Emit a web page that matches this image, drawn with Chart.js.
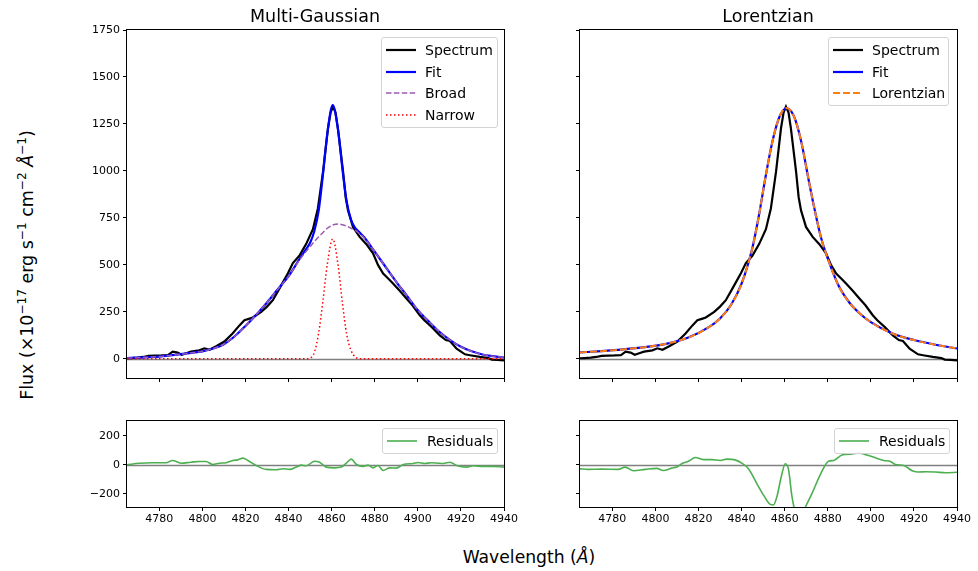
<!DOCTYPE html>
<html>
<head>
<meta charset="utf-8">
<script src="https://cdn.jsdelivr.net/npm/chart.js@4"></script>
<style>
  body { margin: 0; background: #fff; font-family: 'DejaVu Sans', sans-serif; }
  #fig { position: relative; width: 978px; height: 571px; overflow: hidden; }
  .panel { position: absolute; }
  .lbl { position: absolute; white-space: nowrap; color: #000; }
  .legend { position: absolute; border: 1px solid #d3d3d3; border-radius: 3px; background: rgba(255,255,255,0.85); font-size: 14px; z-index: 5; box-sizing: border-box; }
  .legend .row { position: absolute; left: 0; height: 20px; line-height: 20px; white-space: nowrap; }
  .legend svg { position: absolute; top: 5px; }
  sup { font-size: 0.7em; vertical-align: 0.55em; line-height: 0; }
</style>
</head>
<body>
<div id="fig">
  <div class="panel" style="left:77px;top:22px"><canvas id="topLeft" width="443" height="362"></canvas></div>
  <div class="panel" style="left:530px;top:22px"><canvas id="topRight" width="443" height="362"></canvas></div>
  <div class="panel" style="left:77px;top:413px"><canvas id="resLeft" width="443" height="118"></canvas></div>
  <div class="panel" style="left:530px;top:413px"><canvas id="resRight" width="443" height="118"></canvas></div>

  <div class="lbl" style="left:315px;top:6px;transform:translateX(-50%);font-size:17.5px">Multi-Gaussian</div>
  <div class="lbl" style="left:768px;top:6px;transform:translateX(-50%);font-size:17.5px">Lorentzian</div>
  <div class="lbl" style="left:529px;top:547px;transform:translateX(-50%);font-size:17.2px">Wavelength (<i>Å</i>)</div>
  <div class="lbl" style="left:27px;top:265px;transform:translate(-50%,-50%) rotate(-90deg);font-size:17.4px">Flux (×10<sup>−17</sup> erg s<sup>−1</sup> cm<sup>−2</sup> <i>Å</i><sup>−1</sup>)</div>
</div>

<script>
// --- axis ticks ---
const waveTicks = [4780, 4800, 4820, 4840, 4860, 4880, 4900, 4920, 4940];
const fluxTicks = [0, 250, 500, 750, 1000, 1250, 1500, 1750];
const resTicks = [-200, 0, 200];

// --- observed spectrum (same in both panels) ---
const specWave = [4765, 4767, 4770, 4772.5, 4775, 4778, 4781, 4784, 4786.2, 4788.5, 4790.4, 4792.5, 4794.7, 4798.6,
  4800.9, 4803.3, 4806.4, 4810.2, 4814, 4817.2, 4819.5, 4821.9, 4823.4, 4827.3, 4830, 4832.7, 4835.8, 4839.7,
  4842, 4845, 4848.2, 4851.3, 4853.6, 4856, 4858.3, 4859.5, 4860.6, 4861.8, 4862.9, 4865.3, 4866.5, 4867.6,
  4869.9, 4873, 4876.1, 4879.2, 4881.5, 4883.9, 4886, 4888.5, 4891.6, 4894.7, 4897.5, 4900.9, 4903, 4906.4,
  4910.2, 4913, 4914.9, 4918, 4921.9, 4924.2, 4928.8, 4932.7, 4934.3, 4937, 4940];
const specFlux = [3, 4, 6, 10, 16, 17, 18, 20, 38, 33, 22, 30, 38, 45,
  56, 48, 67, 92, 135, 178, 205, 214, 220, 250, 278, 312, 375, 455,
  510, 548, 612, 690, 800, 996, 1227, 1310, 1342, 1310, 1227, 996, 860, 790,
  702, 649, 610, 561, 500, 454, 430, 401, 362, 321, 285, 232, 205, 170,
  125, 100, 95, 54, 24, 19, 10, 4, -4, -6, -8];

// --- multi-gaussian model ---
const modelWave = [4765, 4770, 4775, 4780, 4785, 4790, 4795, 4800, 4805, 4810, 4815, 4820, 4825, 4830, 4835,
  4840, 4845, 4848, 4850, 4852, 4854, 4856, 4858, 4860.5, 4863, 4865, 4867, 4869, 4871, 4873, 4875, 4880, 4885,
  4890, 4895, 4900, 4905, 4910, 4915, 4920, 4925, 4930, 4935, 4940];
const fitFlux = [4, 6, 9, 12, 18, 25, 32, 40, 55, 78, 120, 175, 235, 300, 370,
  440, 530, 582, 618, 682, 790, 985, 1200, 1350, 1215, 1010, 835, 740, 695, 672, 648, 570, 490,
  410, 335, 259, 200, 144, 100, 64, 40, 23, 14, 7];
const broadFlux = [4, 6, 9, 12, 18, 25, 32, 40, 55, 78, 120, 175, 235, 300, 370,
  440, 525, 570, 597, 625, 650, 672, 695, 712, 718, 714, 706, 695, 683, 665, 645, 570, 490,
  410, 335, 259, 200, 144, 100, 64, 40, 23, 14, 7];
const narrowFlux = [0, 0, 0, 0, 0, 0, 0, 0, 0, 0, 0, 0, 0, 0, 0,
  0, 0, 0, 4, 35, 140, 313, 505, 638, 497, 296, 129, 45, 10, 0, 0, 0, 0,
  0, 0, 0, 0, 0, 0, 0, 0, 0, 0, 0];

// --- lorentzian model ---
const lorWave = [4765, 4775, 4785, 4795, 4805, 4815, 4825, 4830, 4835, 4840, 4845, 4848, 4851, 4854, 4857,
  4859, 4861, 4863, 4865, 4868, 4871, 4874, 4877, 4880, 4885, 4890, 4895, 4900, 4910, 4920, 4930, 4940];
const lorFlux = [34, 41, 50, 62, 80, 112, 170, 215, 285, 400, 590, 760, 960, 1140, 1270,
  1318, 1335, 1318, 1270, 1140, 960, 790, 640, 535, 390, 300, 240, 195, 135, 100, 75, 55];

// --- residuals ---
const resLWave = [4765, 4770.7, 4776.9, 4783.1, 4786.2, 4790, 4794.7, 4798.6, 4801.7, 4804.8, 4807.9, 4811, 4814.1,
  4816.4, 4818.8, 4821.1, 4825, 4829.6, 4834.3, 4837.4, 4840.5, 4843.6, 4845.9, 4848.2, 4852.1, 4854.4, 4857.5,
  4861.4, 4864.5, 4866.8, 4869.1, 4871.5, 4874.6, 4876.9, 4879.2, 4881.5, 4883.9, 4887, 4890, 4893.2, 4897.8,
  4900.1, 4903.2, 4906.3, 4909.4, 4911.8, 4914.9, 4918, 4922.6, 4925.7, 4930.4, 4935, 4940];
const resLFlux = [0, 11, 14, 14, 30, 11, 18, 23, 23, 2, 11, 14, 30,
  34, 46, 30, -5, -32, -34, -27, -32, -16, -2, -7, 25, 18, -16,
  -21, -16, 11, 39, 2, -11, -2, -21, -5, -39, -21, -23, 2, 9,
  16, 9, 14, 11, 9, 18, -5, -16, -7, -11, -11, -16];
const resRWave = [4765, 4768.8, 4775, 4782.8, 4785.9, 4789.8, 4795.2, 4800.6, 4803.7, 4807.6, 4809.9, 4812.2,
  4815.4, 4818.5, 4822.3, 4826.2, 4830.1, 4833.2, 4837, 4840.1, 4843.2, 4847.1, 4850.2, 4853.3, 4854.8, 4856.4,
  4858.4, 4860.3, 4861.8, 4863.4, 4865, 4867, 4869.6, 4872.7, 4876.6, 4880.4, 4882.8, 4886.6, 4891.3, 4894.4,
  4899, 4902.1, 4906, 4909.1, 4911.4, 4915.3, 4919.2, 4922.3, 4925.4, 4930, 4934.7, 4940];
const resRFlux = [-28, -32, -30, -32, -16, -41, -32, -25, -39, -23, -16, 7,
  25, 50, 36, 36, 30, 39, 34, 11, -27, -130, -210, -274, -278, -221,
  -84, 7, -34, -221, -330, -380, -294, -198, -66, 25, 30, 68, 75, 82,
  64, 48, 30, 23, 2, -5, -41, -50, -48, -50, -55, -52];

const pts = (xs, ys) => xs.map((x, i) => ({ x: x, y: ys[i] }));
const fmt = v => v < 0 ? '\u2212' + Math.abs(v) : String(v);

// frame + zero line, like matplotlib spines and axhline
const frame = {
  id: 'frame',
  beforeDatasetsDraw(chart) {
    const { ctx, chartArea: a, scales } = chart;
    const y = Math.round(scales.y.getPixelForValue(0)) + 0.5;
    ctx.save();
    ctx.strokeStyle = '#808080';
    ctx.lineWidth = 1.3;
    ctx.beginPath(); ctx.moveTo(a.left, y); ctx.lineTo(a.right, y); ctx.stroke();
    ctx.restore();
  },
  afterDatasetsDraw(chart) {
    const { ctx, chartArea: a } = chart;
    ctx.save();
    ctx.strokeStyle = '#000';
    ctx.lineWidth = 1;
    ctx.strokeRect(a.left - 0.5, a.top - 0.5, a.right - a.left + 1, a.bottom - a.top + 1);
    ctx.restore();
  }
};

// order: higher number is drawn further back
function line(label, data, color, width, dash, smooth, order) {
  return {
    label, data, borderColor: color, borderWidth: width, borderDash: dash || [],
    pointRadius: 0, fill: false, order: order,
    tension: smooth ? 0.4 : 0, cubicInterpolationMode: smooth ? 'monotone' : 'default'
  };
}

function panel(id, datasets, yMin, yMax, yTicks, xLabels, yLabels, xh) {
  return new Chart(document.getElementById(id), {
    type: 'line',
    data: { datasets },
    plugins: [frame],
    options: {
      responsive: false, animation: false, devicePixelRatio: 1,
      layout: { padding: { top: 8, right: 16, left: 0, bottom: 0 } },
      plugins: { legend: { display: false }, tooltip: { enabled: false } },
      scales: {
        x: {
          type: 'linear', min: 4765, max: 4940,
          afterBuildTicks: s => { s.ticks = waveTicks.map(v => ({ value: v })); },
          afterFit: s => { s.height = xh; s.paddingLeft = 0; s.paddingRight = 0; },
          ticks: { display: xLabels, color: '#000', font: { family: 'DejaVu Sans', size: 11 }, maxRotation: 0, autoSkip: false, padding: 2, callback: fmt },
          grid: { drawOnChartArea: false, drawTicks: true, tickLength: 4, color: '#000', tickColor: '#000' },
          border: { display: false }
        },
        y: {
          type: 'linear', min: yMin, max: yMax,
          afterBuildTicks: s => { s.ticks = yTicks.map(v => ({ value: v })); },
          afterFit: s => { s.width = 50; s.paddingTop = 0; s.paddingBottom = 0; },
          ticks: { display: yLabels, color: '#000', font: { family: 'DejaVu Sans', size: 11 }, padding: 3, callback: fmt },
          grid: { drawOnChartArea: false, drawTicks: true, tickLength: 4, color: '#000', tickColor: '#000' },
          border: { display: false }
        }
      }
    }
  });
}

panel('topLeft', [
  line('Spectrum', pts(specWave, specFlux), '#000', 2.2, null, false, 4),
  line('Fit', pts(modelWave, fitFlux), '#0000ff', 2.2, null, true, 3),
  line('Broad', pts(modelWave, broadFlux), '#9b59b6', 1.5, [5.5, 2.4], true, 2),
  line('Narrow', pts(modelWave, narrowFlux), '#ff0000', 1.5, [1.5, 2.5], true, 1)
], -102, 1750, fluxTicks, false, true, 6);

panel('topRight', [
  line('Spectrum', pts(specWave, specFlux), '#000', 2.2, null, false, 3),
  line('Fit', pts(lorWave, lorFlux), '#0000ff', 2.2, null, true, 2),
  line('Lorentzian', pts(lorWave, lorFlux), '#ff7f0e', 2, [7, 3], true, 1)
], -102, 1750, fluxTicks, false, false, 6);

panel('resLeft', [
  line('Residuals', pts(resLWave, resLFlux), '#4caf50', 1.6, null, true, 1)
], -292, 303, resTicks, true, true, 24);

panel('resRight', [
  line('Residuals', pts(resRWave, resRFlux), '#4caf50', 1.6, null, true, 1)
], -292, 303, resTicks, true, false, 24);

// --- legends (matplotlib style boxes inside the axes) ---
function legend(left, top, width, items) {
  const box = document.createElement('div');
  box.className = 'legend';
  box.style.left = left + 'px';
  box.style.top = top + 'px';
  box.style.width = width + 'px';
  box.style.height = (items.length * 21.7 + 4) + 'px';
  items.forEach((it, i) => {
    const row = document.createElement('div');
    row.className = 'row';
    row.style.top = (2 + i * 21.7) + 'px';
    row.innerHTML = '<svg width="30" height="10" style="left:4px"><line x1="0" y1="5" x2="30" y2="5" stroke="' + it.color +
      '" stroke-width="' + it.width + '" stroke-dasharray="' + (it.dash || 'none') + '"/></svg>' +
      '<span style="position:absolute;left:' + it.tx + 'px">' + it.label + '</span>';
    box.appendChild(row);
  });
  document.getElementById('fig').appendChild(box);
}

legend(381, 37, 117, [
  { label: 'Spectrum', color: '#000', width: 2.2, tx: 43 },
  { label: 'Fit', color: '#0000ff', width: 2.2, tx: 43 },
  { label: 'Broad', color: '#9b59b6', width: 1.5, dash: '5.5 2.4', tx: 43 },
  { label: 'Narrow', color: '#ff0000', width: 1.5, dash: '1.5 2.5', tx: 43 }
]);
legend(828, 37, 121, [
  { label: 'Spectrum', color: '#000', width: 2.2, tx: 43 },
  { label: 'Fit', color: '#0000ff', width: 2.2, tx: 43 },
  { label: 'Lorentzian', color: '#ff7f0e', width: 2, dash: '7 3', tx: 43 }
]);
legend(382, 428, 116, [
  { label: 'Residuals', color: '#4caf50', width: 1.6, tx: 44 }
]);
legend(834, 428, 116, [
  { label: 'Residuals', color: '#4caf50', width: 1.6, tx: 44 }
]);
</script>
</body>
</html>
